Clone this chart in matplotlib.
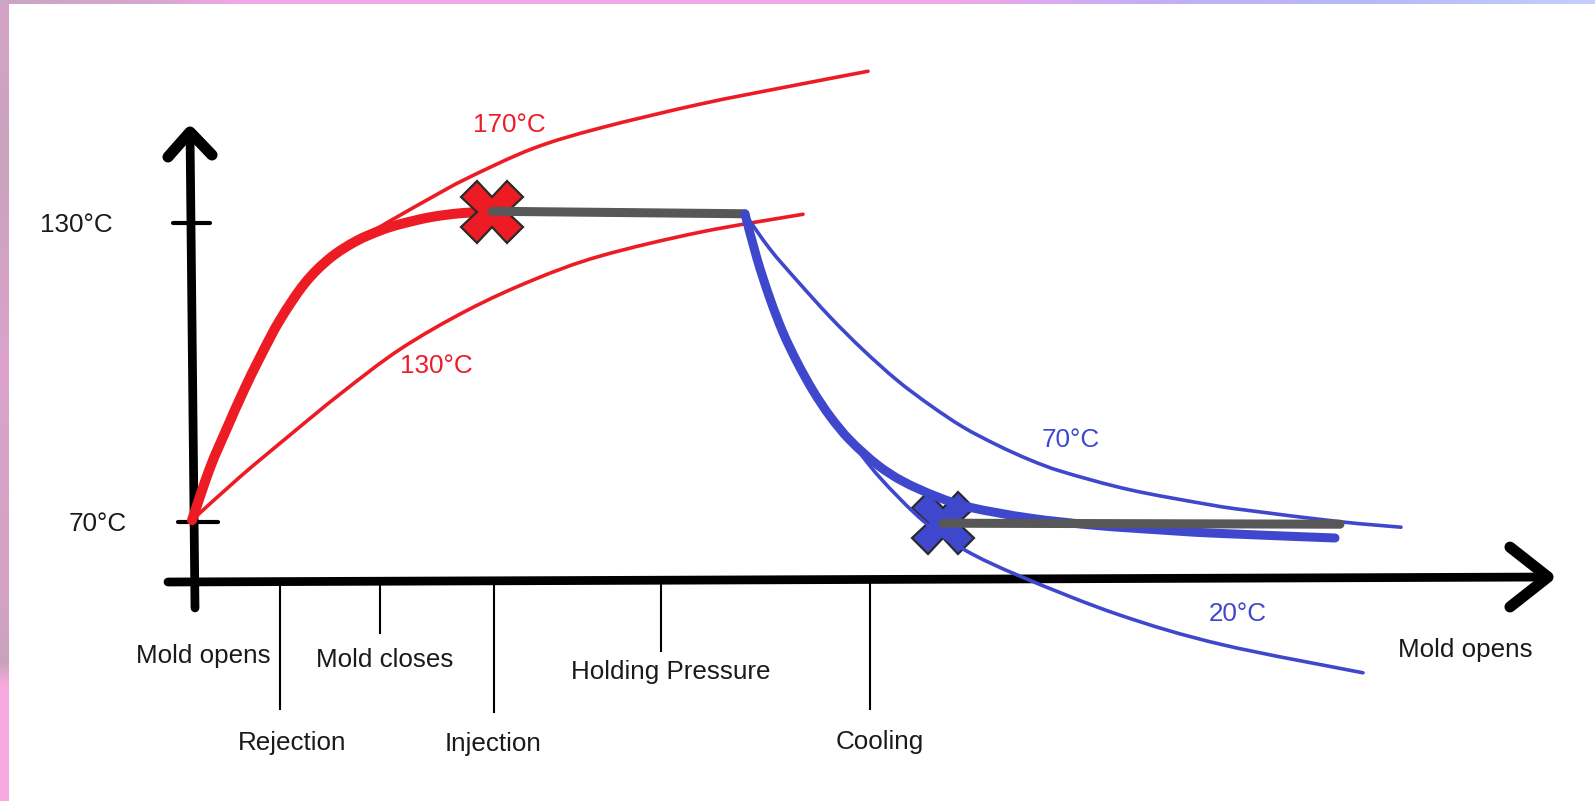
import matplotlib
matplotlib.use("Agg")
import matplotlib.pyplot as plt
import numpy as np
from matplotlib.colors import LinearSegmentedColormap
from matplotlib.path import Path
from matplotlib.patches import PathPatch

plt.rcParams["font.family"] = ["Liberation Sans", "DejaVu Sans"]

# ---------------- data (time units, temperature in °C) ----------------
red_thick_t = [0, 1.8, 3.5, 5.1, 6.8, 8.8, 11.3, 13.8, 16.4, 18.9, 20.8, 23.8, 26.8, 30.0]
red_thick_T = [70.3, 80.8, 88.8, 96.0, 103.0, 110.5, 117.9, 122.9, 126.3, 128.5, 129.7, 131.1, 131.9, 132.3]

red_170_t = [0, 1.8, 3.5, 5.1, 6.8, 8.8, 11.3, 13.8, 16.4, 18.9, 20.8, 23.8, 27.5, 34.1, 40.8, 50.8, 59.8, 67.6]
red_170_T = [70.3, 80.8, 88.8, 96.0, 103.0, 110.5, 117.9, 122.9, 126.3, 129.3, 131.5, 134.9, 138.9, 144.9, 149.0, 153.8, 157.4, 160.4]

red_130_t = [0, 4.8, 9.8, 14.8, 20.8, 27.5, 34.1, 40.8, 50.8, 61.1]
red_130_T = [70.3, 79.0, 87.4, 95.6, 104.6, 112.4, 118.5, 123.3, 128.1, 131.7]

hold_t = [30.0, 55.3]
hold_T = [132.3, 131.8]

blue_thick_t = [55.3, 56.5, 57.8, 59.1, 60.5, 62.1, 63.8, 65.8, 68.5, 71.1, 74.5, 77.8, 83.8, 90.5, 97.1, 102.1, 114.3]
blue_thick_T = [131.75, 122.8, 114.75, 107.97, 102.07, 96.29, 91.17, 86.36, 81.48, 78.09, 75.02, 72.89, 70.72, 69.24, 68.31, 67.71, 66.73]

blue_70_t = [55.3, 57.8, 60.5, 63.8, 67.1, 70.5, 73.8, 77.1, 80.5, 83.8, 87.1, 93.8, 101.8, 105.5, 114.8, 120.9]
blue_70_T = [131.75, 124.7, 118.4, 111.1, 104.5, 98.4, 93.4, 89.0, 85.4, 82.4, 80.0, 76.4, 73.4, 72.3, 70.0, 68.9]

blue_20_t = [55.3, 56.5, 57.8, 59.1, 60.5, 62.1, 63.8, 65.8, 68.8, 73.1, 77.3, 83.1, 92.7, 102.9, 117.1]
blue_20_T = [131.75, 122.8, 114.75, 107.97, 102.07, 96.29, 91.17, 86.36, 78.83, 70.2, 64.3, 58.82, 51.32, 45.38, 39.68]

cool_t = [75.1, 114.8]
cool_T = [69.7, 69.5]

red_mark = (30.0, 132.1)
blue_mark = (75.1, 69.7)

# axes drawing
yaxis_t = [-0.2, 0.3]
yaxis_T = [148.2, 52.7]
yhead_t = [-2.4, -0.2, 2.0]
yhead_T = [143.2, 148.2, 143.6]
xaxis_t = [-2.4, 135.6]
xaxis_T = [57.9, 58.9]
xhead_t = [131.8, 135.6, 131.8]
xhead_T = [64.9, 58.9, 52.9]

ytick_values = [130, 70]
ytick_labels = ["130°C", "70°C"]
ytick_span = [(-1.9, 1.8), (-1.4, 2.6)]
ytick_label_t = [-11.6, -9.4]

phase_t = [8.8, 18.8, 30.2, 46.9, 67.8]
phase_bottom = [32.4, 47.6, 31.8, 44.1, 32.4]
phase_labels = ["Rejection", "Mold closes", "Injection", "Holding Pressure", "Cooling"]
phase_label_t = [10.0, 19.3, 30.1, 47.9, 68.8]
phase_label_T = [24.2, 40.8, 24.0, 38.4, 24.4]

open_labels = ["Mold opens", "Mold opens"]
open_label_t = [1.1, 127.3]
open_label_T = [41.6, 42.9]

curve_labels = ["170°C", "130°C", "70°C", "20°C"]
curve_label_t = [31.7, 24.4, 87.9, 104.6]
curve_label_T = [148.2, 99.8, 85.0, 50.0]

RED = "#ed1c24"
BLUE = "#3f48cc"
GRAY = "#575757"
TXT = "#1a1a1a"

fig = plt.figure(figsize=(15.95, 8.01), dpi=100)
fig.patch.set_facecolor("white")
ax = fig.add_axes([0, 0, 1, 1])
ax.set_xlim(-19.2, 140.3)
ax.set_ylim(13.95, 174.7)
ax.axis("off")

lk = dict(solid_capstyle="round", solid_joinstyle="round")


def smooth_curve(xs, ys, color, lw, z):
    """Draw a smooth Bezier path passing through the read points."""
    P = np.column_stack([xs, ys]).astype(float)
    verts = [P[0]]
    codes = [Path.MOVETO]
    n = len(P)
    for i in range(n - 1):
        p0 = P[i - 1] if i > 0 else P[i]
        p1, p2 = P[i], P[i + 1]
        p3 = P[i + 2] if i + 2 < n else P[i + 1]
        c1 = p1 + (p2 - p0) / 6.0
        c2 = p2 - (p3 - p1) / 6.0
        verts += [c1, c2, p2]
        codes += [Path.CURVE4] * 3
    patch = PathPatch(Path(verts, codes), facecolor="none", edgecolor=color,
                      lw=lw, capstyle="round", joinstyle="round", zorder=z)
    ax.add_patch(patch)


# axes
ax.plot(yaxis_t, yaxis_T, color="black", lw=6.3, **lk, zorder=2)
ax.plot(yhead_t, yhead_T, color="black", lw=8, **lk, zorder=2)
ax.plot(xaxis_t, xaxis_T, color="black", lw=6.3, **lk, zorder=2)
ax.plot(xhead_t, xhead_T, color="black", lw=8, **lk, zorder=2)

for v, (a, b) in zip(ytick_values, ytick_span):
    ax.plot([a, b], [v, v], color="black", lw=3, **lk, zorder=2)
for lab, tt, v in zip(ytick_labels, ytick_label_t, ytick_values):
    ax.text(tt, v - 1.9, lab, fontsize=18.7, color=TXT, ha="center", va="baseline")

# phase markers
for tt, bot in zip(phase_t, phase_bottom):
    ax.plot([tt, tt], [58.3, bot], color="black", lw=1.5, zorder=1)
for lab, tt, TT in zip(phase_labels, phase_label_t, phase_label_T):
    ax.text(tt, TT, lab, fontsize=18.7, color=TXT, ha="center", va="baseline")
for lab, tt, TT in zip(open_labels, open_label_t, open_label_T):
    ax.text(tt, TT, lab, fontsize=18.7, color=TXT, ha="center", va="baseline")

# red curves
smooth_curve(red_170_t, red_170_T, RED, 2.6, 3)
smooth_curve(red_130_t, red_130_T, RED, 2.6, 3)
smooth_curve(red_thick_t, red_thick_T, RED, 7.2, 4)
ax.plot([red_mark[0]], [red_mark[1]], marker="X", ms=44, mfc=RED, mec="#2a2a2a",
        mew=1.6, zorder=5)
ax.plot(hold_t, hold_T, color=GRAY, lw=6.5, **lk, zorder=6)

# blue curves
ax.plot([blue_mark[0]], [blue_mark[1]], marker="X", ms=44, mfc=BLUE, mec="#2a2a2a",
        mew=1.6, zorder=5)
smooth_curve(blue_70_t, blue_70_T, BLUE, 2.6, 6)
smooth_curve(blue_20_t, blue_20_T, BLUE, 2.6, 6)
smooth_curve(blue_thick_t, blue_thick_T, BLUE, 6.5, 6)
ax.plot(cool_t, cool_T, color=GRAY, lw=6.5, **lk, zorder=7)

cols = [RED, RED, BLUE, BLUE]
for lab, tt, TT, c in zip(curve_labels, curve_label_t, curve_label_T, cols):
    ax.text(tt, TT, lab, fontsize=18.7, color=c, ha="center", va="baseline")

# decorative frame strips
left_cmap = LinearSegmentedColormap.from_list(
    "l", [(0, "#d4a4c6"), (0.2, "#c9a2bd"), (0.45, "#dba2cb"), (0.75, "#d3a2c4"),
          (0.83, "#c8a3bb"), (0.855, "#f6a8df"), (1, "#f8a9e0")])
lax = fig.add_axes([0, 0, 9 / 1595, 1])
lax.imshow(np.linspace(0, 1, 400).reshape(-1, 1), cmap=left_cmap, aspect="auto",
           extent=[0, 1, 1, 0])
lax.axis("off")

top_cmap = LinearSegmentedColormap.from_list(
    "t", [(0, "#c9a6c2"), (0.1, "#d8a6d2"), (0.15, "#f3a8e8"), (0.6, "#f0a8e8"),
          (0.72, "#c4aef4"), (0.85, "#b6b8f6"), (1, "#c4cffc")])
tax = fig.add_axes([0, 1 - 4 / 801, 1, 4 / 801])
tax.imshow(np.linspace(0, 1, 800).reshape(1, -1), cmap=top_cmap, aspect="auto")
tax.axis("off")

fig.savefig("out.png", dpi=100, facecolor="white")
